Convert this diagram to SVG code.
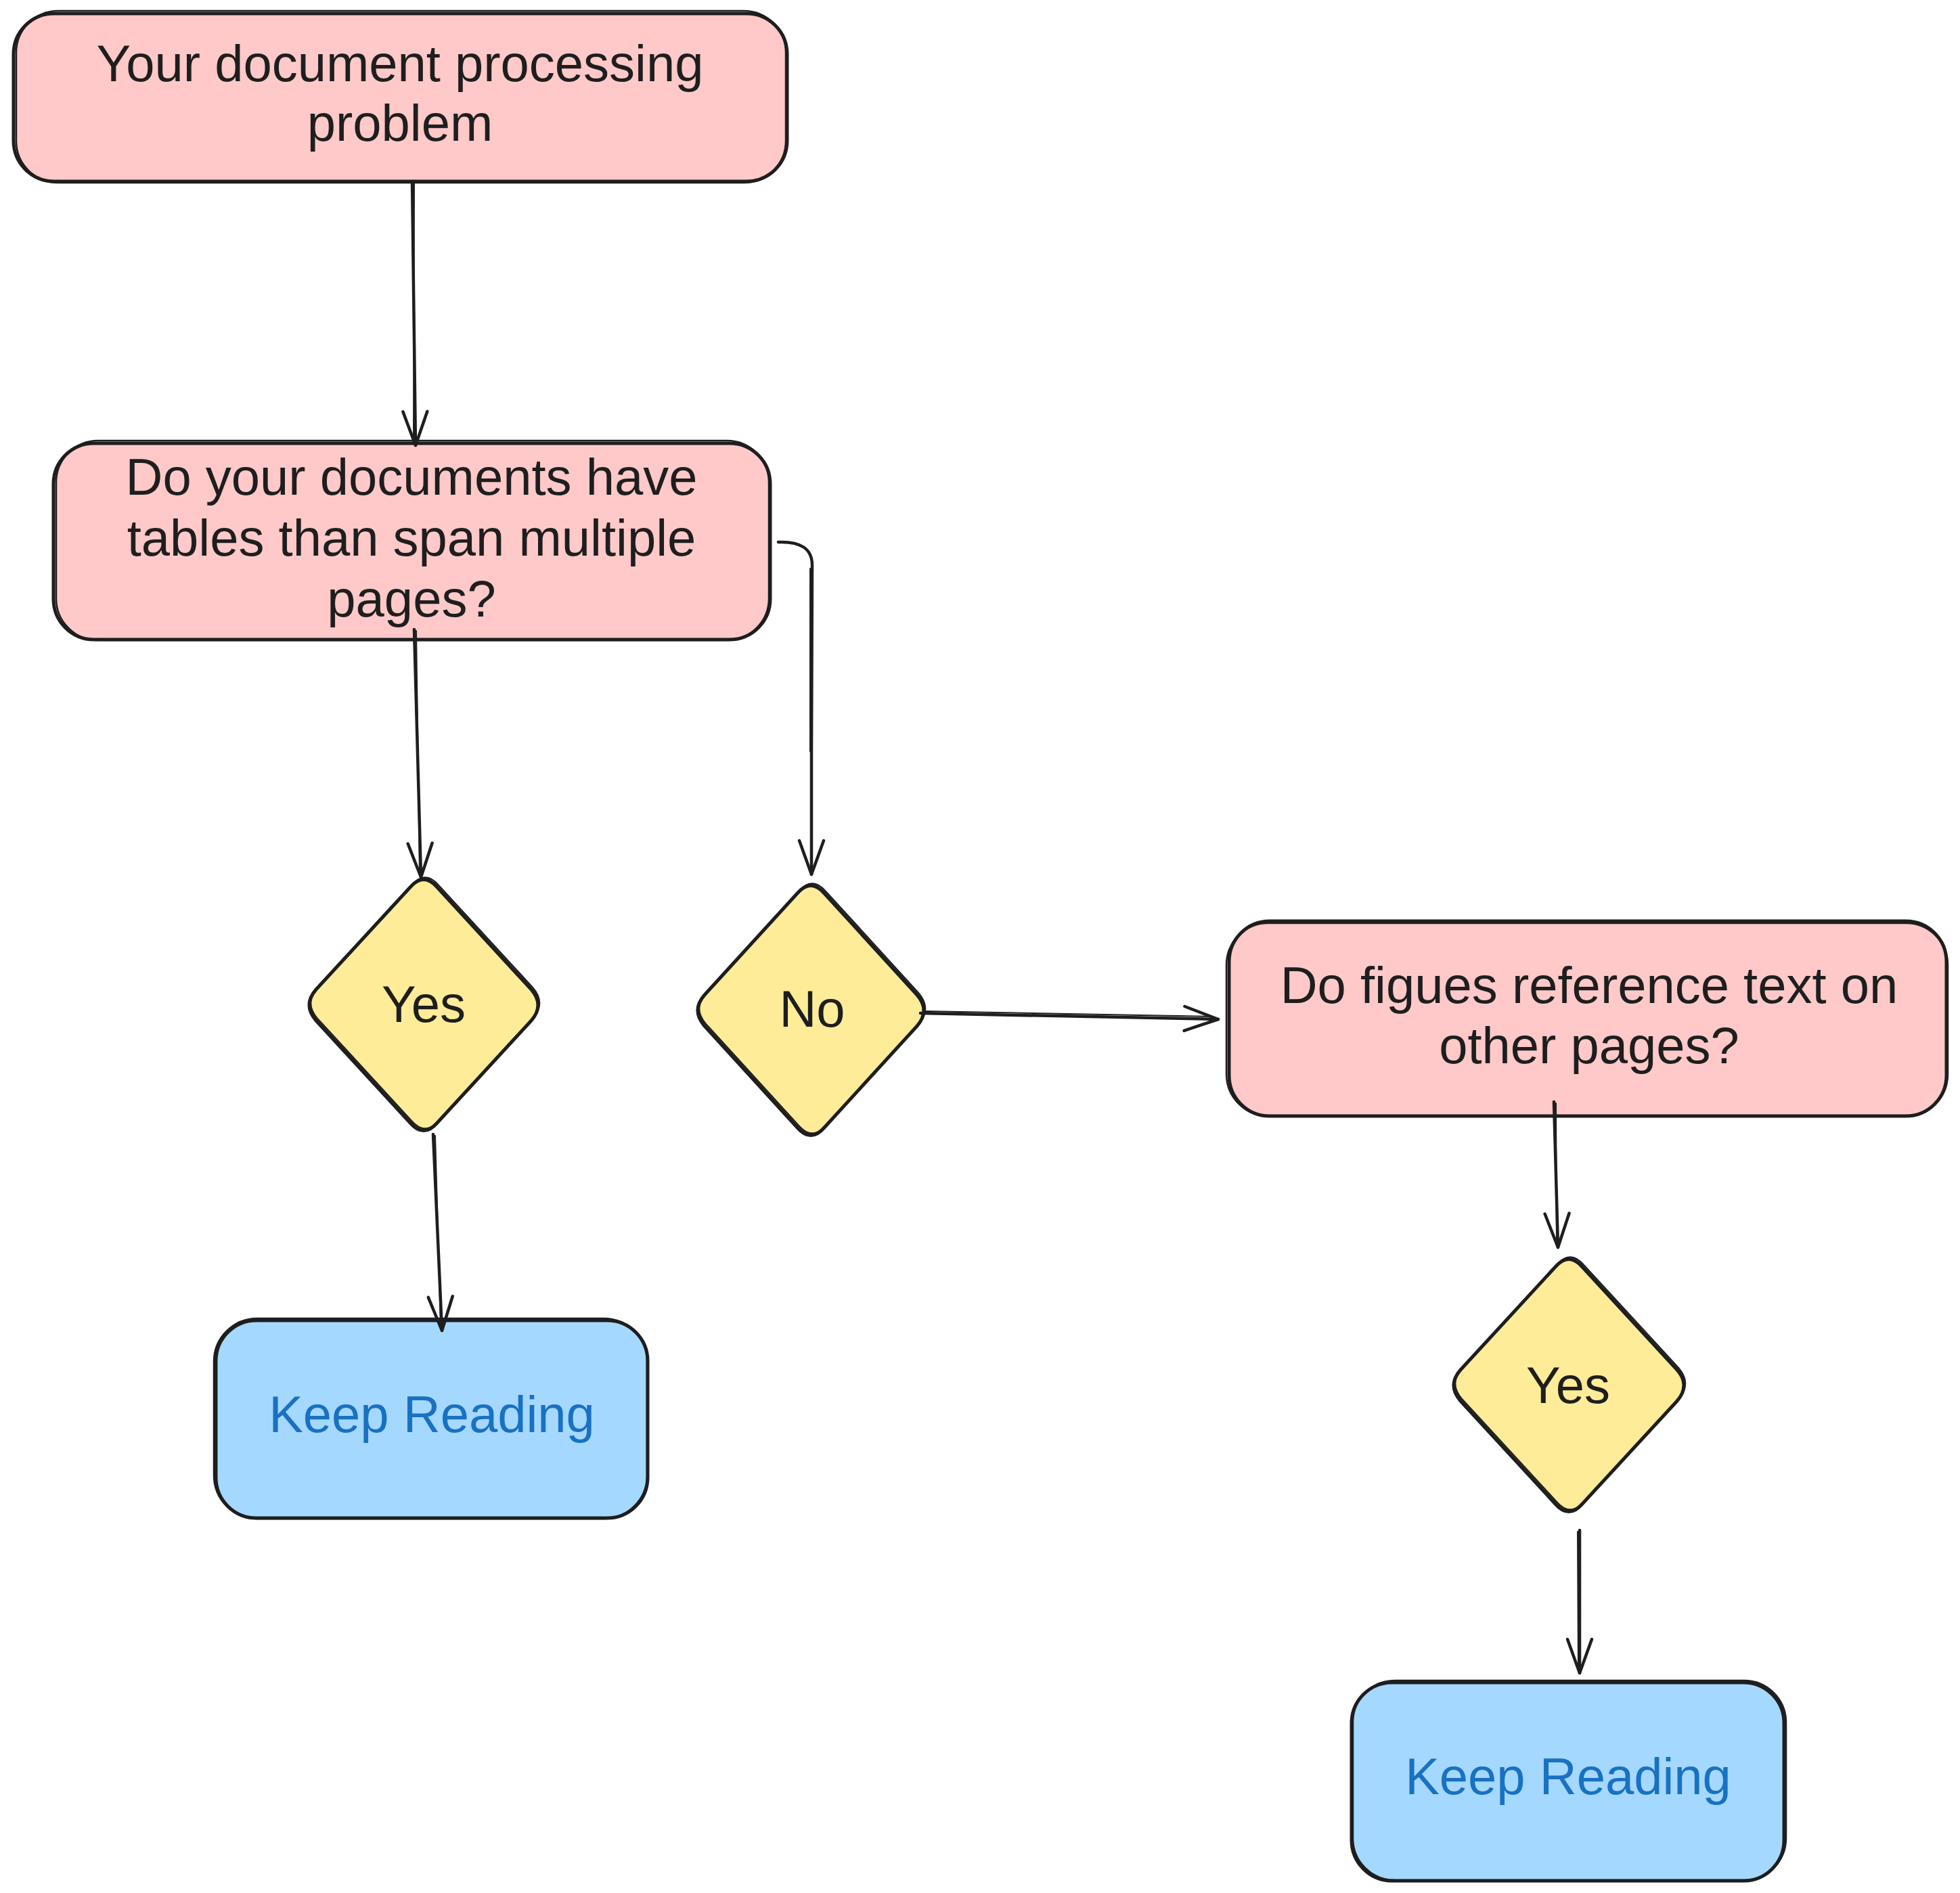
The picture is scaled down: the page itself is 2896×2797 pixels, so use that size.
<svg xmlns="http://www.w3.org/2000/svg" width="2896" height="2797" viewBox="0 0 2896 2797">
<defs>
<style>
.bg{fill:#ffffff}
.pink{fill:#ffc9c9}
.yellow{fill:#ffec99}
.blue{fill:#a5d8ff}
.ol{fill:none;stroke:#1e1e1e;stroke-width:5;stroke-linejoin:round;stroke-linecap:round}
.ol2{fill:none;stroke:#1e1e1e;stroke-width:2.5;stroke-linejoin:round;stroke-linecap:round}
.t{font-family:"Liberation Sans","DejaVu Sans",sans-serif;font-size:76px;fill:#1e1e1e;text-anchor:middle}
.tb{fill:#1971c2}
.edge{fill:none;stroke:#1e1e1e;stroke-width:4.5;stroke-linecap:round;stroke-linejoin:round}
.edge2{fill:none;stroke:#1e1e1e;stroke-width:2;stroke-linecap:round}
</style>
<marker id="ah" markerUnits="userSpaceOnUse" viewBox="-60 -25 70 50" markerWidth="70" markerHeight="50" refX="0" refY="0" orient="auto">
<path d="M -50,-18 L 0,0 L -50,18" fill="none" stroke="#1e1e1e" stroke-width="4.5" stroke-linecap="round" stroke-linejoin="round"/>
</marker>
</defs>
<rect class="bg" x="0" y="0" width="2896" height="2797"/>

<g id="n1">
<rect class="pink" x="20" y="20" width="1143" height="248" rx="60"/>
<rect class="ol" x="20" y="20" width="1143" height="248" rx="60"/>
<rect class="ol2" x="24" y="16" width="1137" height="254" rx="62"/>
<text class="t" x="591" y="120">Your document processing</text>
<text class="t" x="591" y="208">problem</text>
</g>

<g id="n2">
<rect class="pink" x="79" y="655" width="1059" height="290" rx="60"/>
<rect class="ol" x="79" y="655" width="1059" height="290" rx="60"/>
<rect class="ol2" x="83" y="651" width="1053" height="295" rx="62"/>
<text class="t" x="608" y="731">Do your documents have</text>
<text class="t" x="608" y="821">tables than span multiple</text>
<text class="t" x="608" y="911">pages?</text>
</g>

<g id="n3">
<path class="yellow" d="M 606,1311 Q 626,1288 646,1311 L 785,1462 Q 805,1485 785,1508 L 646,1659 Q 626,1682 606,1659 L 467,1508 Q 447,1485 467,1462 Z"/>
<path class="ol" d="M 606,1311 Q 626,1288 646,1311 L 785,1462 Q 805,1485 785,1508 L 646,1659 Q 626,1682 606,1659 L 467,1508 Q 447,1485 467,1462 Z"/>
<path class="ol2" transform="translate(2,-3)" d="M 606,1311 Q 626,1288 646,1311 L 785,1462 Q 805,1485 785,1508 L 646,1659 Q 626,1682 606,1659 L 467,1508 Q 447,1485 467,1462 Z"/>
<text class="t" x="626" y="1510">Yes</text>
</g>

<g id="n4">
<path class="yellow" d="M 1178,1320 Q 1198,1297 1218,1320 L 1355,1470 Q 1375,1493 1355,1516 L 1218,1666 Q 1198,1689 1178,1666 L 1041,1516 Q 1021,1493 1041,1470 Z"/>
<path class="ol" d="M 1178,1320 Q 1198,1297 1218,1320 L 1355,1470 Q 1375,1493 1355,1516 L 1218,1666 Q 1198,1689 1178,1666 L 1041,1516 Q 1021,1493 1041,1470 Z"/>
<path class="ol2" transform="translate(2,-3)" d="M 1178,1320 Q 1198,1297 1218,1320 L 1355,1470 Q 1375,1493 1355,1516 L 1218,1666 Q 1198,1689 1178,1666 L 1041,1516 Q 1021,1493 1041,1470 Z"/>
<text class="t" x="1200" y="1517">No</text>
</g>

<g id="n5">
<rect class="pink" x="1816" y="1361" width="1060" height="288" rx="60"/>
<rect class="ol" x="1816" y="1361" width="1060" height="288" rx="60"/>
<rect class="ol2" x="1812" y="1364" width="1066" height="285" rx="62"/>
<text class="t" x="2348" y="1482">Do figues reference text on</text>
<text class="t" x="2348" y="1571">other pages?</text>
</g>

<g id="n6">
<path class="yellow" d="M 2298,1872 Q 2318,1849 2338,1872 L 2478,2024 Q 2498,2047 2478,2070 L 2338,2222 Q 2318,2245 2298,2222 L 2158,2070 Q 2138,2047 2158,2024 Z"/>
<path class="ol" d="M 2298,1872 Q 2318,1849 2338,1872 L 2478,2024 Q 2498,2047 2478,2070 L 2338,2222 Q 2318,2245 2298,2222 L 2158,2070 Q 2138,2047 2158,2024 Z"/>
<path class="ol2" transform="translate(2,-3)" d="M 2298,1872 Q 2318,1849 2338,1872 L 2478,2024 Q 2498,2047 2478,2070 L 2338,2222 Q 2318,2245 2298,2222 L 2158,2070 Q 2138,2047 2158,2024 Z"/>
<text class="t" x="2317" y="2073">Yes</text>
</g>

<g id="n7">
<rect class="blue" x="319" y="1951" width="638" height="292" rx="60"/>
<rect class="ol" x="319" y="1951" width="638" height="292" rx="60"/>
<rect class="ol2" x="316" y="1948" width="640" height="296" rx="64"/>
<text class="t tb" x="638" y="2116">Keep Reading</text>
</g>

<g id="n8">
<rect class="blue" x="1997" y="2486" width="639" height="293" rx="60"/>
<rect class="ol" x="1997" y="2486" width="639" height="293" rx="60"/>
<rect class="ol2" x="1999" y="2483" width="640" height="295" rx="62"/>
<text class="t tb" x="2317" y="2651">Keep Reading</text>
</g>

<g id="connectors">
<path class="edge" d="M 609,268 L 614,658" marker-end="url(#ah)"/>
<path class="edge2" d="M 612,270 L 611,655"/>
<path class="edge" d="M 612,930 L 622,1296" marker-end="url(#ah)"/>
<path class="edge2" d="M 615,932 L 620,1292"/>
<path class="edge" d="M 1150,801 Q 1200,799 1200,835 L 1199,1116 L 1199,1292" marker-end="url(#ah)"/>
<path class="edge2" d="M 1197,840 L 1197,1110"/>
<path class="edge" d="M 1360,1497 L 1800,1506" marker-end="url(#ah)"/>
<path class="edge2" d="M 1364,1494 L 1790,1502"/>
<path class="edge" d="M 640,1676 L 653,1966" marker-end="url(#ah)"/>
<path class="edge2" d="M 643,1678 L 651,1960"/>
<path class="edge" d="M 2296,1628 L 2302,1843" marker-end="url(#ah)"/>
<path class="edge2" d="M 2299,1630 L 2300,1838"/>
<path class="edge" d="M 2334,2261 L 2334,2472" marker-end="url(#ah)"/>
<path class="edge2" d="M 2331,2263 L 2332,2468"/>
</g>
</svg>
